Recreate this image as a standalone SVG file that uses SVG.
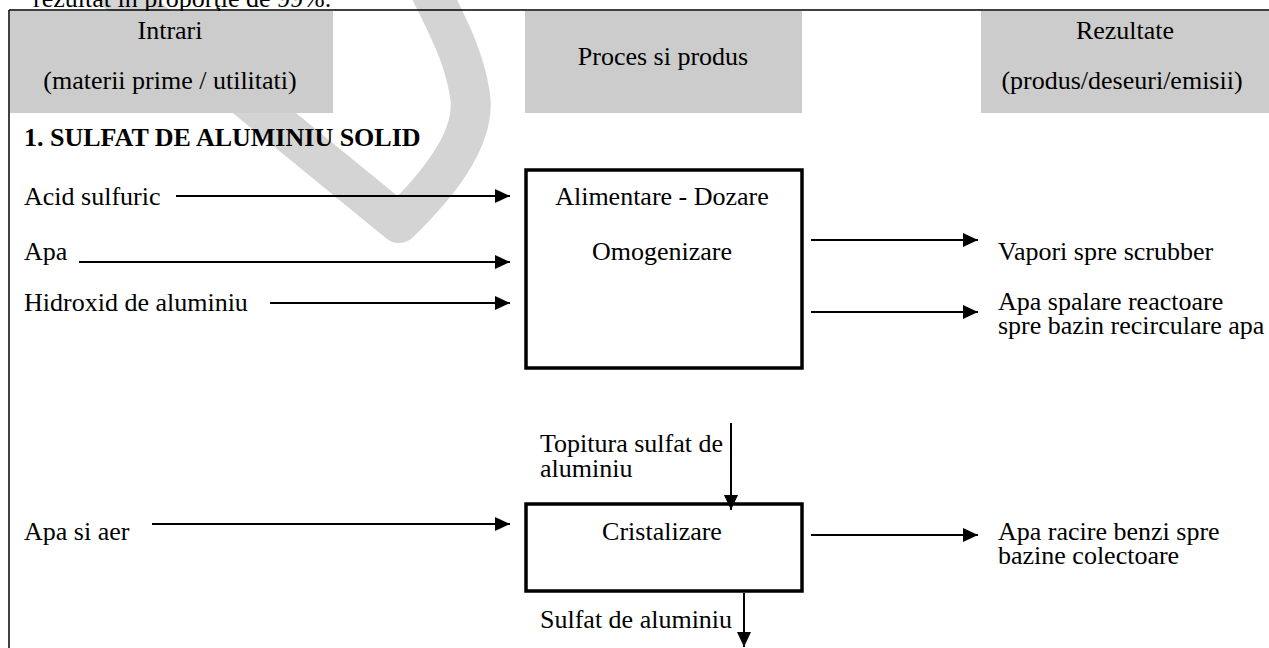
<svg xmlns="http://www.w3.org/2000/svg" width="1269" height="648" viewBox="0 0 1269 648">
<style>
text{font-family:'Liberation Serif','Times New Roman',serif;font-size:26px;fill:#000}
.mid{text-anchor:middle}
.hdr{fill:#cccccc}
.box{fill:#fff;stroke:#000;stroke-width:3.5}
.conn{stroke:#000;stroke-width:2;fill:none}
.frame{stroke:#000;stroke-width:1.5}
</style>
<defs>
<marker id="ah" viewBox="0 0 15 14" refX="15" refY="7" markerWidth="15" markerHeight="14" markerUnits="userSpaceOnUse" orient="auto">
<path d="M0,0 L15,7 L0,14 Z" fill="#000"/>
</marker>
</defs>
<rect width="1269" height="648" fill="#fff"/>
<g id="watermark">
<path d="M120,-5 L399,223 C433,190 477,140 470,95 C464,55 447,25 425,-20" fill="none" stroke="#d4d4d4" stroke-width="40" stroke-linejoin="round" stroke-linecap="round"/>
</g>
<g id="frame">
<text x="33" y="7">rezultat în proporţie de 99%.</text>
<line class="frame" x1="9" y1="10" x2="1269" y2="10"/>
<line class="frame" x1="9" y1="10" x2="9" y2="648"/>
</g>
<g id="hdr-intrari">
<rect class="hdr" x="10" y="11" width="323" height="102"/>
<text class="mid" x="170" y="39">Intrari</text>
<text class="mid" x="170" y="89">(materii prime / utilitati)</text>
</g>
<g id="hdr-proces">
<rect class="hdr" x="525" y="11" width="277" height="102"/>
<text class="mid" x="663" y="65">Proces si produs</text>
</g>
<g id="hdr-rezultate">
<rect class="hdr" x="981" y="11" width="288" height="102"/>
<text class="mid" x="1125" y="39">Rezultate</text>
<text class="mid" x="1122" y="89">(produs/deseuri/emisii)</text>
</g>
<g id="title">
<text x="24" y="146" font-weight="bold">1. SULFAT DE ALUMINIU SOLID</text>
</g>
<g id="in-acid"><text x="24" y="205">Acid sulfuric</text></g>
<g id="in-apa"><text x="24" y="260">Apa</text></g>
<g id="in-hidroxid"><text x="24" y="311">Hidroxid de aluminiu</text></g>
<g id="proc-alimentare">
<rect class="box" x="526" y="170" width="276" height="198"/>
<text class="mid" x="662" y="205">Alimentare - Dozare</text>
<text class="mid" x="662" y="260">Omogenizare</text>
</g>
<g id="out-vapori"><text x="998" y="260">Vapori spre scrubber</text></g>
<g id="out-apa-spalare">
<text x="998" y="310">Apa spalare reactoare</text>
<text x="998" y="334">spre bazin recirculare apa</text>
</g>
<g id="in-topitura">
<text x="540" y="452">Topitura sulfat de</text>
<text x="540" y="477">aluminiu</text>
</g>
<g id="in-apa-aer"><text x="24" y="540">Apa si aer</text></g>
<g id="proc-cristalizare">
<rect class="box" x="526" y="504" width="276" height="87"/>
<text class="mid" x="662" y="540">Cristalizare</text>
</g>
<g id="out-apa-racire">
<text x="998" y="540">Apa racire benzi spre</text>
<text x="998" y="564">bazine colectoare</text>
</g>
<g id="out-sulfat"><text x="540" y="628">Sulfat de aluminiu</text></g>
<g id="connectors">
<line class="conn" x1="176" y1="196" x2="510" y2="196" marker-end="url(#ah)"/>
<line class="conn" x1="79" y1="262" x2="510" y2="262" marker-end="url(#ah)"/>
<line class="conn" x1="270" y1="303" x2="510" y2="303" marker-end="url(#ah)"/>
<line class="conn" x1="811" y1="240" x2="978" y2="240" marker-end="url(#ah)"/>
<line class="conn" x1="811" y1="312" x2="978" y2="312" marker-end="url(#ah)"/>
<line class="conn" x1="731" y1="423" x2="731" y2="510" marker-end="url(#ah)"/>
<line class="conn" x1="152" y1="524" x2="510" y2="524" marker-end="url(#ah)"/>
<line class="conn" x1="811" y1="535" x2="978" y2="535" marker-end="url(#ah)"/>
<line class="conn" x1="744" y1="593" x2="744" y2="647" marker-end="url(#ah)"/>
</g>
</svg>
